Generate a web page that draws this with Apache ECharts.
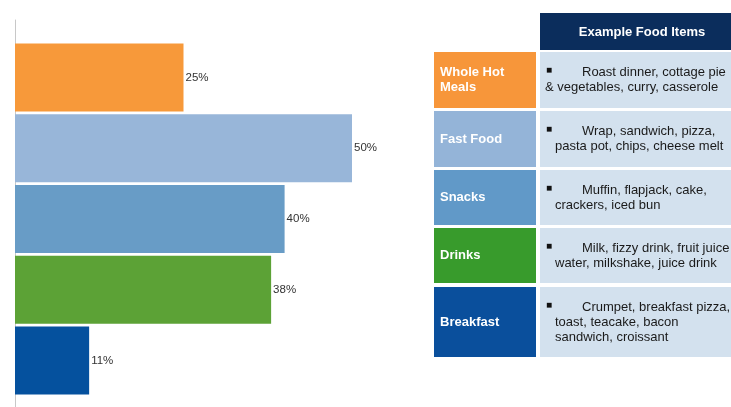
<!DOCTYPE html>
<html>
<head>
<meta charset="utf-8">
<script src="https://cdn.jsdelivr.net/npm/echarts@6/dist/echarts.min.js"></script>
<style>html,body{margin:0;padding:0;background:#fff}#c{width:731px;height:407px}</style>
</head>
<body>
<div id="c"></div>
<script>
var categories = ['Whole Hot Meals', 'Fast Food', 'Snacks', 'Drinks', 'Breakfast'];
var categoryLines = [['Whole Hot', 'Meals'], ['Fast Food'], ['Snacks'], ['Drinks'], ['Breakfast']];
var values = [25, 50, 40, 38, 11];
var tableHeader = 'Example Food Items';
var foodItems = [
  ['Roast dinner, cottage pie', '& vegetables, curry, casserole'],
  ['Wrap, sandwich, pizza,', 'pasta pot, chips, cheese melt'],
  ['Muffin, flapjack, cake,', 'crackers, iced bun'],
  ['Milk, fizzy drink, fruit juice', 'water, milkshake, juice drink'],
  ['Crumpet, breakfast pizza,', 'toast, teacake, bacon', 'sandwich, croissant']
];

// styles / layout
var barColors = ['#f7993a', '#98b6d9', '#689cc6', '#5ca236', '#05519e'];
var cellColors = ['#f7963a', '#94b4d8', '#6199c8', '#389b2c', '#0a4f9c'];
var rowTops = [52, 111, 170, 228, 287];
var rowHeights = [56, 56, 55, 55, 70];
var line2X = [545, 555, 555, 555, 555];
var FONT = '"Liberation Sans", Arial, sans-serif';

function buildGraphics() {
  var g = [];
  g.push({type: 'rect', shape: {x: 540, y: 13, width: 191, height: 37}, style: {fill: '#0b2d5c'}});
  g.push({type: 'text', x: 642, y: 32, style: {text: tableHeader, fill: '#fff', font: 'bold 13px ' + FONT, align: 'center', verticalAlign: 'middle'}});
  for (var i = 0; i < categories.length; i++) {
    var rt = rowTops[i], rh = rowHeights[i];
    g.push({type: 'rect', shape: {x: 434, y: rt, width: 102, height: rh}, style: {fill: cellColors[i]}});
    g.push({type: 'rect', shape: {x: 540, y: rt, width: 191, height: rh}, style: {fill: '#d3e1ee'}});
    var ll = categoryLines[i];
    var cy = rt + rh / 2 - (ll.length - 1) * 7.5;
    for (var k = 0; k < ll.length; k++) {
      g.push({type: 'text', x: 440, y: cy + k * 15, style: {text: ll[k], fill: '#fff', font: 'bold 13px ' + FONT, verticalAlign: 'middle'}});
    }
    var items = foodItems[i];
    var iy = rt + rh / 2 - (items.length - 1) * 7.5;
    g.push({type: 'text', x: 546, y: iy - 2, style: {text: '\u25A0', fill: '#111', font: '10px ' + FONT, verticalAlign: 'middle'}});
    for (var m = 0; m < items.length; m++) {
      g.push({type: 'text', x: m === 0 ? 582 : line2X[i], y: iy + m * 15, style: {text: items[m], fill: '#1a1a1a', font: '13px ' + FONT, verticalAlign: 'middle'}});
    }
  }
  return g;
}

var chart = echarts.init(document.getElementById('c'));
chart.setOption({
  animation: false,
  backgroundColor: '#fff',
  grid: [
    {left: 15, top: 42, width: 337, height: 354, containLabel: false},
    {left: 15, top: 20, width: 10, bottom: 0, containLabel: false}
  ],
  xAxis: [
    {type: 'value', gridIndex: 0, min: 0, max: 50, show: false},
    {type: 'value', gridIndex: 1, min: 0, max: 1, show: false}
  ],
  yAxis: [
    {type: 'category', gridIndex: 0, data: categories, inverse: true, show: false},
    {type: 'value', gridIndex: 1, min: 0, max: 1, interval: 1, axisLine: {show: true, lineStyle: {color: '#c8c8c8', width: 1}}, axisTick: {show: false}, axisLabel: {show: false}, splitLine: {show: false}}
  ],
  series: [{
    type: 'bar',
    xAxisIndex: 0, yAxisIndex: 0,
    data: values.map(function (v, i) { return {value: v, itemStyle: {color: barColors[i]}}; }),
    barCategoryGap: '4%',
    label: {show: true, position: 'right', distance: 2, formatter: '{c}%', color: '#333', fontFamily: 'Liberation Sans', fontSize: 11.5}
  }],
  graphic: buildGraphics()
});
</script>
</body>
</html>
